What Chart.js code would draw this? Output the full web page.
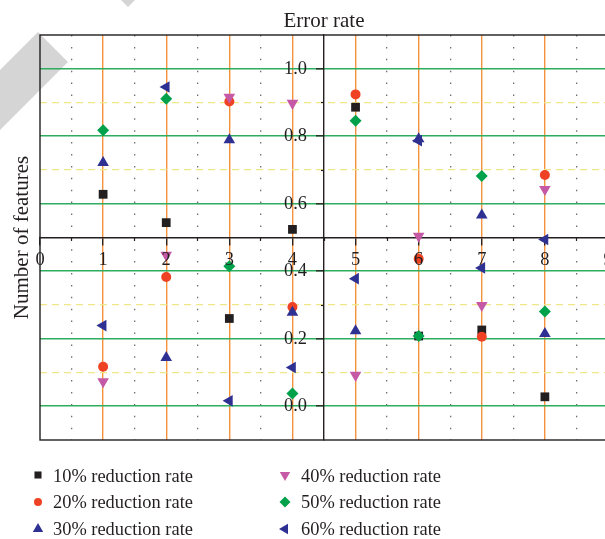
<!DOCTYPE html>
<html>
<head>
<meta charset="utf-8">
<script src="https://cdn.jsdelivr.net/npm/chart.js@4.4.1/dist/chart.umd.min.js"></script>
<style>
  html, body { margin: 0; padding: 0; background: #ffffff; overflow: hidden; }
  #wrap { width: 605px; height: 539px; overflow: hidden; position: relative; }
  canvas { display: block; }
</style>
</head>
<body>
<div id="wrap"><canvas id="chart" width="620" height="539"></canvas></div>
<script>
// Feature counts on the horizontal axis
const featureCounts = [1, 2, 3, 4, 5, 6, 7, 8];

// Error rate for each reduction rate
const rate10 = [0.628, 0.544, 0.260, 0.524, 0.886, 0.208, 0.226, 0.028];
const rate20 = [0.117, 0.383, 0.903, 0.294, 0.924, 0.437, 0.206, 0.685];
const rate30 = [0.722, 0.144, 0.789, 0.278, 0.223, 0.792, 0.566, 0.215];
const rate40 = [0.073, 0.448, 0.916, 0.898, 0.092, 0.504, 0.299, 0.643];
const rate50 = [0.818, 0.911, 0.415, 0.038, 0.846, 0.208, 0.682, 0.281];
const rate60 = [0.239, 0.946, 0.016, 0.115, 0.378, 0.787, 0.410, 0.494];

const seriesNames = [
  '10% reduction rate', '20% reduction rate', '30% reduction rate',
  '40% reduction rate', '50% reduction rate', '60% reduction rate'
];

// Tick positions and labels
const xMajorTicks = [0, 1, 2, 3, 4, 5, 6, 7, 8, 9];
const xMinorTicks = [0.5, 1.5, 2.5, 3.5, 4.5, 5.5, 6.5, 7.5, 8.5];
const xTickLabels = ['0', '1', '2', '3', '4', '5', '6', '7', '8', '9'];
const yMajorTicks = [0, 0.2, 0.4, 0.6, 0.8, 1.0];
const yMinorTicks = [0.1, 0.3, 0.5, 0.7, 0.9];
const yTickLabels = ['0.0', '0.2', '0.4', '0.6', '0.8', '1.0'];

const INK = '#231f20';
const GREEN = '#2fad5e';
const ORANGE = '#f5923e';
const YELLOW = '#efe78a';
const DOTS = '#6d6e71';
const CLEAR = 'rgba(0,0,0,0)';

// y labels sit this far left of the vertical axis (tick length + padding)
const Y_LABEL_GAP = 17;

const near = (a, b) => Math.abs(a - b) < 1e-6;
const indexIn = (list, v) => list.findIndex(t => near(t, v));

const styles = [
  { color: '#231f20', pointStyle: 'rect',     rotation: 0,   radius: 6.2, legendRadius: 5   },
  { color: '#ef4123', pointStyle: 'circle',   rotation: 0,   radius: 5,   legendRadius: 4   },
  { color: '#2e3192', pointStyle: 'triangle', rotation: 0,   radius: 6.7, legendRadius: 6   },
  { color: '#c659a6', pointStyle: 'triangle', rotation: 180, radius: 6.7, legendRadius: 6   },
  { color: '#00a14b', pointStyle: 'rectRot',  rotation: 0,   radius: 6,   legendRadius: 5.5 },
  { color: '#2e3192', pointStyle: 'triangle', rotation: 270, radius: 6.7, legendRadius: 6   }
];

const seriesValues = [rate10, rate20, rate30, rate40, rate50, rate60];

const datasets = seriesValues.map((vals, i) => ({
  label: seriesNames[i],
  data: featureCounts.map((x, k) => ({ x: x, y: vals[k] })),
  showLine: false,
  pointStyle: styles[i].pointStyle,
  pointRotation: styles[i].rotation,
  pointRadius: styles[i].radius,
  pointHoverRadius: styles[i].radius,
  pointBackgroundColor: styles[i].color,
  pointBorderColor: styles[i].color,
  pointBorderWidth: 0,
  order: seriesValues.length - i
}));

const serif = 'Liberation Serif, Times New Roman, serif';

function drawMarker(ctx, st, x, y, r) {
  ctx.save();
  ctx.fillStyle = st.color;
  ctx.strokeStyle = st.color;
  if (Chart.helpers && Chart.helpers.drawPoint) {
    Chart.helpers.drawPoint(ctx, { pointStyle: st.pointStyle, rotation: st.rotation, radius: r, borderWidth: 0 }, x, y);
  } else {
    ctx.beginPath();
    ctx.arc(x, y, r, 0, Math.PI * 2);
    ctx.fill();
  }
  ctx.restore();
}

const decor = {
  id: 'decor',
  beforeDraw(chart) {
    const c = chart.ctx;
    c.save();
    c.fillStyle = '#d5d5d5';
    c.beginPath();
    c.moveTo(38, 32); c.lineTo(68, 62); c.lineTo(0, 130); c.lineTo(0, 70);
    c.closePath(); c.fill();
    c.beginPath();
    c.moveTo(121, 0); c.lineTo(128, 7); c.lineTo(135, 0);
    c.closePath(); c.fill();
    c.restore();

    // move the vertical axis labels clear of the axis line and its ticks
    const ys = chart.scales.y;
    if (ys && ys.getLabelItems) {
      const items = ys.getLabelItems();
      if (items && !items._shifted) {
        items.forEach(it => {
          const t = it.translation || (it.options && it.options.translation);
          if (t) t[0] -= Y_LABEL_GAP;
        });
        items._shifted = true;
      }
    }
  },
  beforeDatasetsDraw(chart) {
    const a = chart.chartArea;
    const c = chart.ctx;
    c.save();
    c.strokeStyle = INK;
    c.lineWidth = 1.4;
    c.strokeRect(a.left, a.top, a.right - a.left, a.bottom - a.top);
    c.restore();
  },
  afterDraw(chart) {
    const c = chart.ctx;
    const xs = chart.scales.x, ys = chart.scales.y;
    c.save();
    c.fillStyle = INK;
    c.font = '21px ' + serif;
    c.textAlign = 'center';
    c.textBaseline = 'alphabetic';
    c.fillText('Error rate', xs.getPixelForValue(4.5), 27);

    c.save();
    c.translate(28, ys.getPixelForValue(0.5));
    c.rotate(-Math.PI / 2);
    c.fillText('Number of features', 0, 0);
    c.restore();

    // Two-column legend
    const markerX = [38, 285];
    const textX = [53, 301];
    const markerY = [475, 502, 529];
    const textY = [481.5, 508, 535];
    c.font = '18.4px ' + serif;
    c.textAlign = 'left';
    chart.data.datasets.forEach((ds, i) => {
      const col = i < 3 ? 0 : 1;
      const row = i % 3;
      drawMarker(c, styles[i], markerX[col], markerY[row], styles[i].legendRadius);
      c.fillStyle = INK;
      c.fillText(ds.label, textX[col], textY[row]);
    });
    c.restore();
  }
};

new Chart(document.getElementById('chart'), {
  type: 'scatter',
  data: { datasets: datasets },
  plugins: [decor],
  options: {
    responsive: false,
    animation: false,
    events: [],
    layout: { padding: { left: 40, top: 35, right: 12, bottom: 99 } },
    plugins: { legend: { display: false }, title: { display: false }, tooltip: { enabled: false } },
    scales: {
      x: {
        type: 'linear', axis: 'x', min: 0, max: 9,
        position: { y: 0.5 },
        afterBuildTicks: s => { s.ticks = xMajorTicks.concat(xMinorTicks).sort((a, b) => a - b).map(v => ({ value: v })); },
        grid: {
          color: ctx => {
            const v = ctx.tick ? ctx.tick.value : null;
            if (v === null) return CLEAR;
            if (indexIn(xMajorTicks, v) >= 0) return (v > 0 && v < 9) ? ORANGE : CLEAR;
            return near(v, 4.5) ? CLEAR : DOTS;
          },
          lineWidth: ctx => (ctx.tick && indexIn(xMajorTicks, ctx.tick.value) >= 0) ? 1.4 : 1.3,
          tickColor: ctx => (ctx.tick && indexIn(xMajorTicks, ctx.tick.value) >= 0) ? INK : CLEAR,
          tickWidth: 1.3,
          tickLength: 7,
          drawOnChartArea: true
        },
        border: {
          display: true, color: INK, width: 1.4,
          dash: ctx => (ctx.tick && indexIn(xMinorTicks, ctx.tick.value) >= 0) ? [1.5, 10.4] : []
        },
        ticks: {
          z: 1, autoSkip: false, maxRotation: 0, padding: 5,
          color: INK, font: { family: serif, size: 18.4 },
          callback: v => { const k = indexIn(xMajorTicks, v); return k >= 0 ? xTickLabels[k] : ''; }
        }
      },
      xMinor: {
        type: 'linear', axis: 'x', min: 0, max: 9,
        position: { y: 0.5 },
        afterBuildTicks: s => { s.ticks = xMinorTicks.map(v => ({ value: v })); },
        grid: { drawOnChartArea: false, tickLength: 3, tickColor: INK, tickWidth: 1.2 },
        border: { display: false },
        ticks: { autoSkip: false, maxRotation: 0, callback: () => '' }
      },
      y: {
        type: 'linear', axis: 'y', min: -0.1, max: 1.1,
        position: { x: 4.5 },
        afterBuildTicks: s => { s.ticks = yMajorTicks.concat(yMinorTicks).sort((a, b) => a - b).map(v => ({ value: v })); },
        grid: {
          color: ctx => {
            const v = ctx.tick ? ctx.tick.value : null;
            if (v === null) return CLEAR;
            if (indexIn(yMajorTicks, v) >= 0) return GREEN;
            return near(v, 0.5) ? CLEAR : YELLOW;
          },
          lineWidth: ctx => (ctx.tick && indexIn(yMajorTicks, ctx.tick.value) >= 0) ? 1.6 : 1.3,
          tickColor: ctx => (ctx.tick && indexIn(yMajorTicks, ctx.tick.value) >= 0) ? INK : CLEAR,
          tickWidth: 1.3,
          tickLength: 7,
          drawOnChartArea: true
        },
        border: {
          display: true, color: INK, width: 1.4,
          dash: ctx => (ctx.tick && indexIn(yMinorTicks, ctx.tick.value) >= 0) ? [7, 5] : []
        },
        ticks: {
          z: 1, autoSkip: false, padding: 10,
          color: INK, font: { family: serif, size: 18.4 },
          callback: v => { const k = indexIn(yMajorTicks, v); return k >= 0 ? yTickLabels[k] : ''; }
        }
      },
      yMinor: {
        type: 'linear', axis: 'y', min: -0.1, max: 1.1,
        position: { x: 4.5 },
        afterBuildTicks: s => { s.ticks = yMinorTicks.map(v => ({ value: v })); },
        grid: { drawOnChartArea: false, tickLength: 3, tickColor: INK, tickWidth: 1.2 },
        border: { display: false },
        ticks: { autoSkip: false, callback: () => '' }
      }
    }
  }
});
</script>
</body>
</html>
